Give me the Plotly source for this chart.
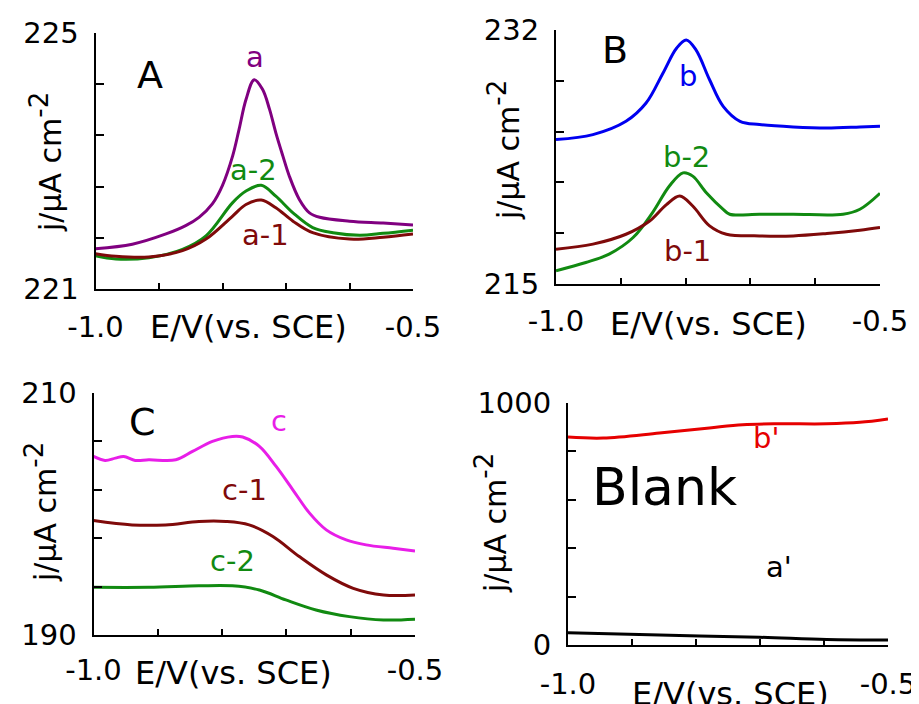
import plotly.graph_objects as go
import numpy as np

# the page body has an 8px margin, so the figure is placed at (8, 8) in the window
OFF = 8
W, H = 919 - OFF, 704 - OFF
FONT = "DejaVu Sans"

# ---------------- Panel A data ----------------
A_E_a = [-1.0, -0.942, -0.889, -0.858, -0.837, -0.816, -0.800, -0.784, -0.774, -0.763, -0.750, -0.737, -0.726, -0.716, -0.705, -0.695, -0.679, -0.663, -0.647, -0.600, -0.547, -0.500]
A_j_a = [221.63, 221.70, 221.86, 221.99, 222.12, 222.33, 222.62, 223.08, 223.49, 223.96, 224.27, 224.12, 223.81, 223.44, 223.08, 222.77, 222.40, 222.19, 222.12, 222.06, 222.03, 222.00]
A_E_a2 = [-1.0, -0.968, -0.916, -0.863, -0.826, -0.784, -0.763, -0.739, -0.716, -0.689, -0.658, -0.626, -0.584, -0.547, -0.500]
A_j_a2 = [221.52, 221.47, 221.49, 221.62, 221.83, 222.35, 222.53, 222.62, 222.45, 222.19, 221.96, 221.88, 221.84, 221.87, 221.92]
A_E_a1 = [-1.0, -0.968, -0.916, -0.863, -0.826, -0.784, -0.763, -0.739, -0.716, -0.689, -0.658, -0.600, -0.547, -0.500]
A_j_a1 = [221.55, 221.51, 221.50, 221.60, 221.78, 222.14, 222.32, 222.39, 222.27, 222.06, 221.88, 221.78, 221.81, 221.86]

# ---------------- Panel B data ----------------
B_E_b = [-1.0, -0.943, -0.892, -0.861, -0.835, -0.814, -0.799, -0.784, -0.763, -0.742, -0.716, -0.686, -0.634, -0.582, -0.531, -0.500]
B_j_b = [224.67, 225.00, 225.89, 227.11, 229.11, 230.78, 231.33, 230.67, 228.67, 226.89, 225.89, 225.67, 225.51, 225.44, 225.51, 225.56]
B_E_b2 = [-1.0, -0.954, -0.918, -0.881, -0.851, -0.825, -0.804, -0.789, -0.768, -0.742, -0.732, -0.686, -0.634, -0.557, -0.531, -0.500]
B_j_b2 = [215.89, 216.44, 217.00, 218.11, 219.78, 221.56, 222.44, 222.22, 221.11, 220.00, 219.67, 219.67, 219.67, 219.67, 220.00, 221.07]
B_E_b1 = [-1.0, -0.943, -0.892, -0.856, -0.830, -0.809, -0.789, -0.763, -0.737, -0.686, -0.634, -0.582, -0.531, -0.500]
B_j_b1 = [217.33, 217.67, 218.33, 219.20, 220.30, 220.89, 220.22, 218.89, 218.33, 218.22, 218.22, 218.38, 218.60, 218.78]

# ---------------- Panel C data ----------------
C_E_c = [-1.0, -0.982, -0.966, -0.953, -0.935, -0.914, -0.872, -0.846, -0.815, -0.784, -0.768, -0.742, -0.716, -0.690, -0.664, -0.638, -0.607, -0.576, -0.534, -0.500]
C_j_c = [204.76, 204.43, 204.62, 204.76, 204.43, 204.48, 204.48, 205.17, 206.00, 206.41, 206.36, 205.59, 203.93, 202.00, 200.07, 198.69, 197.86, 197.45, 197.17, 196.95]
C_E_c1 = [-1.0, -0.940, -0.888, -0.836, -0.794, -0.758, -0.721, -0.680, -0.638, -0.596, -0.549, -0.500]
C_j_c1 = [199.46, 199.10, 199.10, 199.38, 199.38, 199.10, 198.14, 196.48, 194.97, 193.86, 193.31, 193.31]
C_E_c2 = [-1.0, -0.914, -0.836, -0.784, -0.742, -0.701, -0.654, -0.602, -0.549, -0.500]
C_j_c2 = [193.94, 193.94, 194.06, 194.06, 193.72, 192.90, 192.07, 191.52, 191.24, 191.30]

# ---------------- Blank panel data ----------------
D_E_b = [-1.0, -0.945, -0.857, -0.779, -0.727, -0.674, -0.596, -0.544, -0.500]
D_j_b = [859, 855, 876, 897, 910, 914, 914, 920, 934]
D_E_a = [-1.0, -0.857, -0.701, -0.596, -0.500]
D_j_a = [51, 41, 32, 23, 21]

# axis ranges & tick labels
x_range = [-1.0, -0.5]
x_ticktext = ["-1.0", "", "", "", "", "-0.5"]
yA_range = [221, 225]
yB_range = [215, 232]
yC_range = [190, 210]
yD_range = [0, 1000]

COL_PURPLE = "#800080"
COL_GREEN = "#118a11"
COL_MAROON = "#7f0a0a"
COL_BLUE = "#0000f0"
COL_MAGENTA = "#e81ee8"
COL_RED = "#e60000"
COL_BLACK = "#000000"


def px2x(px):
    return (px - OFF) / W


def px2y(py):
    return 1 - (py - OFF) / H


# panel geometry in window pixels: (x0, x1, ytop, ybottom)
panels = {
    1: (95.5, 413, 33, 289),
    2: (556, 880, 30, 284),
    3: (93.5, 415, 393, 635),
    4: (568, 888, 403, 645),
}
yranges = {1: yA_range, 2: yB_range, 3: yC_range, 4: yD_range}
xstand = {1: 11, 2: 10, 3: 8, 4: 12}

fig = go.Figure()

series = [
    (1, A_E_a, A_j_a, COL_PURPLE),
    (1, A_E_a2, A_j_a2, COL_GREEN),
    (1, A_E_a1, A_j_a1, COL_MAROON),
    (2, B_E_b, B_j_b, COL_BLUE),
    (2, B_E_b2, B_j_b2, COL_GREEN),
    (2, B_E_b1, B_j_b1, COL_MAROON),
    (3, C_E_c, C_j_c, COL_MAGENTA),
    (3, C_E_c1, C_j_c1, COL_MAROON),
    (3, C_E_c2, C_j_c2, COL_GREEN),
    (4, D_E_b, D_j_b, COL_RED),
    (4, D_E_a, D_j_a, COL_BLACK),
]
for p, xs, ys, c in series:
    sfx = "" if p == 1 else str(p)
    fig.add_trace(go.Scatter(x=xs, y=ys, mode="lines",
                             line=dict(color=c, width=3, shape="spline", smoothing=1.0),
                             xaxis="x" + sfx, yaxis="y" + sfx, showlegend=False,
                             hoverinfo="skip"))

TICKSIZE = 29
layout = dict(width=W, height=H, margin=dict(l=0, r=0, t=0, b=0, autoexpand=False),
              paper_bgcolor="white", plot_bgcolor="white",
              font=dict(family=FONT, size=TICKSIZE, color="black"))

for p, (x0, x1, yt, yb) in panels.items():
    sfx = "" if p == 1 else str(p)
    yr = yranges[p]
    ytv = list(np.linspace(yr[0], yr[1], 6))
    ytt = [str(yr[0])] + [""] * 4 + [str(yr[1])]
    layout["xaxis" + sfx] = dict(domain=[px2x(x0), px2x(x1)], range=x_range,
                                 anchor="y" + sfx, showline=True, linecolor="black", linewidth=2,
                                 ticks="inside", ticklen=6, tickwidth=2, tickcolor="black",
                                 tickvals=list(np.linspace(x_range[0], x_range[1], 6)),
                                 ticktext=x_ticktext, showgrid=False, zeroline=False,
                                 automargin=False, ticklabelstandoff=xstand[p],
                                 tickfont=dict(family=FONT, size=TICKSIZE, color="black"))
    layout["yaxis" + sfx] = dict(domain=[px2y(yb), px2y(yt)], range=yr,
                                 anchor="x" + sfx, showline=True, linecolor="black", linewidth=2,
                                 ticks="inside", ticklen=8, tickwidth=2, tickcolor="black",
                                 tickvals=ytv, ticktext=ytt, showgrid=False, zeroline=False,
                                 automargin=False, ticklabelstandoff=9,
                                 tickfont=dict(family=FONT, size=TICKSIZE, color="black"))

fig.update_layout(**layout)


def ann(text, px, py, size, color="black", angle=0):
    fig.add_annotation(text=text, x=px2x(px), y=px2y(py), xref="paper", yref="paper",
                       showarrow=False, xanchor="center", yanchor="middle",
                       textangle=angle, font=dict(family=FONT, size=size, color=color))


ytitle = "j/μA cm<sup><span style='font-size:26px'>-2</span></sup>"
xtitle = "E/V(vs. SCE)"

# axis titles
ann(ytitle, 46, 162, 30, angle=-90)
ann(ytitle, 504, 150, 30, angle=-90)
ann(ytitle, 41, 512, 30, angle=-90)
ann(ytitle, 491, 523, 30, angle=-90)
ann(xtitle, 248, 327, 32)
ann(xtitle, 708, 324, 32)
ann(xtitle, 233, 673, 32)
ann(xtitle, 730, 694, 32)

# panel letters
ann("A", 150, 75, 38)
ann("B", 615, 50, 38)
ann("C", 142, 422, 38)
ann("Blank", 664, 487, 52)

# curve labels
ann("a", 255, 57, 29, COL_PURPLE)
ann("a-2", 253, 170, 29, COL_GREEN)
ann("a-1", 265, 235, 29, COL_MAROON)
ann("b", 688, 76, 29, COL_BLUE)
ann("b-2", 686, 157, 29, COL_GREEN)
ann("b-1", 687, 251, 29, COL_MAROON)
ann("c", 279, 421, 29, COL_MAGENTA)
ann("c-1", 244, 490, 29, COL_MAROON)
ann("c-2", 232, 561, 29, COL_GREEN)
ann("b'", 766, 438, 29, COL_RED)
ann("a'", 779, 567, 29, COL_BLACK)

fig.write_html("out.html")
